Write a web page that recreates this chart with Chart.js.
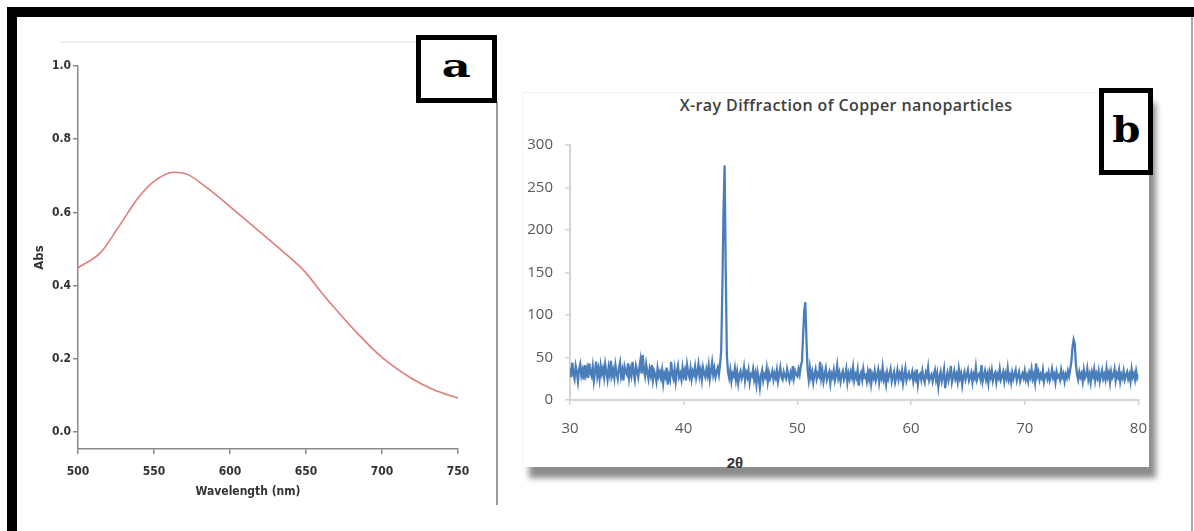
<!DOCTYPE html>
<html><head><meta charset="utf-8">
<script src="https://cdn.jsdelivr.net/npm/chart.js@4"></script>
<style>
html,body{margin:0;padding:0;background:#fff;}
body{width:1194px;height:531px;position:relative;overflow:hidden;}
.abs{position:absolute;}
#topbar{left:7px;top:7px;width:1187px;height:10px;background:#000;}
#leftbar{left:7px;top:7px;width:10px;height:524px;background:#000;}
#rightline{left:1191px;top:17px;width:2px;height:514px;background:#a8a8a8;}
#divider{left:496px;top:102px;width:2px;height:403px;background:#9a9a9a;}
#faintA{left:60px;top:41px;width:358px;height:2px;background:#f0f0f0;}
#panelB{left:522px;top:92px;width:627px;height:375px;background:#fff;box-shadow:7px 11px 6px rgba(0,0,0,0.45);border-top:1px solid #f0f0f0;border-left:1px solid #f5f5f5;box-sizing:border-box;}
.lbox{border:5px solid #000;background:#fff;display:flex;align-items:center;justify-content:center;z-index:5;}
#boxA{left:416px;top:35px;width:71px;height:58px;}
#boxB{left:1099px;top:88px;width:44px;height:77px;}
.letter{font-family:'DejaVu Serif',serif;font-weight:bold;color:#000;display:inline-block;}
#letA{font-size:32px;transform:scaleX(1.4);margin-top:-6px;}
#letB{font-size:35px;transform:scaleX(1.15);margin-top:-4px;}
#wrapA{left:20px;top:40px;width:470px;height:470px;}
#wrapB{left:510px;top:92px;width:652px;height:375px;z-index:2;}
#xtitleA{left:148px;top:484px;width:200px;text-align:center;font-family:'Liberation Sans Narrow','Arial Narrow','DejaVu Sans Condensed',sans-serif;font-weight:bold;font-size:12px;color:#333;}
#xtitleB{left:700px;top:454px;width:70px;text-align:center;font-family:'Liberation Sans',sans-serif;font-weight:bold;font-size:15px;color:#333;}
#titleB{left:646px;top:94px;width:400px;text-align:center;font-family:'Open Sans',sans-serif;font-weight:600;font-size:16px;letter-spacing:0.4px;color:#404040;white-space:nowrap;}
</style>
</head><body>
<div id="topbar" class="abs"></div>
<div id="leftbar" class="abs"></div>
<div id="rightline" class="abs"></div>
<div id="faintA" class="abs"></div>
<div id="divider" class="abs"></div>
<div id="panelB" class="abs"></div>
<div id="wrapA" class="abs"><canvas id="chartA" width="470" height="470"></canvas></div>
<div id="wrapB" class="abs"><canvas id="chartB" width="652" height="375"></canvas></div>
<div id="boxA" class="abs lbox"><span id="letA" class="letter">a</span></div>
<div id="boxB" class="abs lbox"><span id="letB" class="letter">b</span></div>
<div id="xtitleA" class="abs">Wavelength (nm)</div>
<div id="xtitleB" class="abs">2θ</div>
<div id="titleB" class="abs">X-ray Diffraction of Copper nanoparticles</div>
<script>
// ---- Panel a: UV-Vis absorbance ----
const wavelengths = [500,515,526,540,550,563,572,585,600,616,633,650,657,668,682,700,719,734,750];
const absorbance  = [0.449,0.491,0.556,0.642,0.685,0.710,0.704,0.667,0.616,0.560,0.500,0.435,0.398,0.343,0.278,0.204,0.148,0.116,0.093];
const absTicks = [0,0.2,0.4,0.6,0.8,1.0];
const wlTicks = [500,550,600,650,700,750];

// ---- Panel b: XRD pattern (2θ from 30 to 80, step 0.1) ----
const twoThetaStart = 30;
const twoThetaStep = 0.1;
const intensity = [
38,27,44,31,25,40,33,22,36,42,
29,35,24,41,30,37,26,43,32,28,
39,23,34,45,28,36,25,40,31,37,
27,42,33,24,38,30,46,29,35,26,
41,32,25,37,44,28,35,23,39,33,
30,43,26,36,29,45,32,24,40,34,
27,38,47,31,53,35,28,42,33,25,
36,29,41,24,34,30,22,37,28,33,
26,35,20,31,27,38,18,29,24,45,
30,25,36,22,33,40,27,31,24,38,
29,35,23,41,32,27,37,25,34,30,
39,26,33,42,28,35,24,38,31,27,
36,29,40,25,34,44,30,37,27,33,
38,30,42,58,130,220,276,150,52,33,
26,35,22,31,28,37,24,33,20,30,
34,25,29,38,23,32,27,35,21,30,
28,36,24,31,19,33,26,15,29,35,
23,30,27,37,22,32,25,29,34,24,
31,26,35,22,30,38,27,24,33,28,
25,36,29,23,32,27,40,26,34,30,
28,36,30,40,45,75,105,115,70,35,
24,38,27,33,21,30,36,25,31,28,
45,26,34,22,30,37,24,29,33,20,
31,27,35,23,29,40,26,32,22,30,
34,24,28,36,21,31,25,33,27,38,
23,30,26,35,17,28,32,24,36,27,
29,22,33,25,37,20,30,26,34,23,
28,35,21,31,26,38,24,29,19,32,
25,30,36,22,28,33,21,27,35,24,
31,26,34,20,29,37,23,28,32,25,
27,33,22,30,25,36,19,29,31,24,
34,26,21,32,28,38,23,27,30,22,
29,35,24,31,16,27,33,22,28,36,
14,26,32,23,29,40,21,27,34,25,
30,22,36,26,31,18,28,33,24,29,
35,23,27,32,21,30,26,38,24,29,
31,25,41,22,28,34,24,30,20,33,
27,35,23,29,32,21,30,26,36,24,
28,33,22,31,26,37,24,29,21,32,
25,30,35,23,28,33,22,27,31,26,
34,24,29,22,32,27,36,25,30,21,
43,28,33,24,30,26,35,22,29,31,
25,32,23,28,36,26,30,21,33,27,
29,24,35,27,31,22,30,26,34,28,
36,45,62,71,66,42,30,24,33,27,
31,22,35,26,29,37,24,30,21,33,
28,36,23,31,26,34,22,29,35,25,
30,24,37,27,32,21,33,26,29,36,
23,31,27,35,22,30,26,34,24,29,
33,25,30,22,36,27,31,24,34,26,
30
];
const xrdTicksY = [0,50,100,150,200,250,300];
const xrdTicksX = [30,40,50,60,70,80];

const narrow = "'Liberation Sans Narrow','Arial Narrow','DejaVu Sans Condensed',sans-serif";

new Chart(document.getElementById('chartA'), {
  type: 'line',
  data: {
    datasets: [{
      data: wavelengths.map((w,i)=>({x:w, y:absorbance[i]})),
      borderColor: '#e07c7c',
      borderWidth: 1.6,
      pointRadius: 0,
      cubicInterpolationMode: 'monotone',
      fill: false
    }]
  },
  options: {
    responsive: false,
    animation: false,
    layout: {padding: {left: 0, top: 26, right: 32, bottom: 0}},
    plugins: {legend: {display: false}, tooltip: {enabled: false}},
    scales: {
      x: {
        type: 'linear', min: 500, max: 750,
        afterFit: s => { s.height = 61; },
        afterBuildTicks: s => { s.ticks = wlTicks.map(v=>({value:v})); },
        grid: {drawOnChartArea: false, tickLength: 5, color: '#8a8a8a', lineWidth: 1.5},
        border: {color: '#8a8a8a', width: 1.5},
        ticks: {color: '#333', padding: 11, font: {family: narrow, weight: 'bold', size: 12}, maxRotation: 0}
      },
      y: {
        type: 'linear', min: -0.046, max: 1.0,
        afterFit: s => { s.width = 58; },
        afterBuildTicks: s => { s.ticks = absTicks.map(v=>({value:v})); },
        grid: {drawOnChartArea: false, tickLength: 5, color: '#8a8a8a', lineWidth: 1.5},
        border: {color: '#8a8a8a', width: 1.5},
        ticks: {color: '#333', padding: 2, font: {family: narrow, weight: 'bold', size: 12}, callback: v => v.toFixed(1)},
        title: {display: true, text: 'Abs', color: '#333', font: {family: narrow, weight: 'bold', size: 13}, padding: {top: 12, bottom: 0}}
      }
    }
  }
});

new Chart(document.getElementById('chartB'), {
  type: 'line',
  data: {
    datasets: [{
      data: intensity.map((v,i)=>({x: +(twoThetaStart + i*twoThetaStep).toFixed(1), y: v})),
      borderColor: '#4a7ebb',
      borderWidth: 2.3,
      pointRadius: 0,
      tension: 0,
      fill: false
    }]
  },
  options: {
    responsive: false,
    animation: false,
    layout: {padding: {left: 0, top: 53, right: 1, bottom: 0}},
    plugins: {legend: {display: false}, tooltip: {enabled: false}},
    scales: {
      x: {
        type: 'linear', min: 30, max: 80,
        afterFit: s => { s.height = 67; },
        afterBuildTicks: s => { s.ticks = xrdTicksX.map(v=>({value:v})); },
        ticks: {color: '#595959', padding: 15, font: {family: "'Open Sans',sans-serif", size: 15}, maxRotation: 0},
        grid: {drawOnChartArea: false, tickLength: 5, color: '#d4d4d4', lineWidth: 1.5},
        border: {color: '#d4d4d4', width: 2}
      },
      y: {
        type: 'linear', min: 0, max: 300,
        afterFit: s => { s.width = 60; },
        afterBuildTicks: s => { s.ticks = xrdTicksY.map(v=>({value:v})); },
        ticks: {color: '#595959', padding: 12, font: {family: "'Open Sans',sans-serif", size: 15}},
        grid: {drawOnChartArea: false, tickLength: 5, color: '#d4d4d4', lineWidth: 1.5},
        border: {color: '#d4d4d4', width: 2}
      }
    }
  }
});
</script>
</body></html>
